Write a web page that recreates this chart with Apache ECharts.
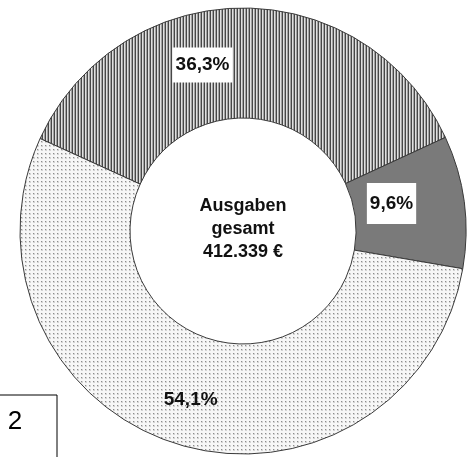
<!DOCTYPE html>
<html>
<head>
<meta charset="utf-8">
<script src="https://cdn.jsdelivr.net/npm/echarts@6/dist/echarts.min.js"></script>
<style>
  html, body { margin: 0; padding: 0; background: #fff; }
  #chart { width: 467px; height: 457px; }
</style>
</head>
<body>
<div id="chart"></div>
<script>
// values
const categories = ['Anteil A', 'Anteil B', 'Anteil C'];
const shares = [36.3, 9.6, 54.1];
const labelTexts = ['36,3%', '9,6%', '54,1%'];
const centerLines = ['Ausgaben', 'gesamt', '412.339 €'];
const pageNumber = '2';

const FONT = 'Arial, "Liberation Sans", sans-serif';
const cx = 243, cy = 231;

// small fill patterns like the old print version
function stripePattern() {
  const c = document.createElement('canvas');
  c.width = 3; c.height = 3;
  const g = c.getContext('2d');
  const cols = ['#474747', '#e0e0e0', '#a2a2a2'];
  cols.forEach((col, i) => { g.fillStyle = col; g.fillRect(i, 0, 1, 3); });
  return c;
}
function dotPattern() {
  const c = document.createElement('canvas');
  c.width = 4; c.height = 4;
  const g = c.getContext('2d');
  g.fillStyle = '#f7f7f7';
  g.fillRect(0, 0, 4, 4);
  g.fillStyle = '#d4d4d4';
  g.fillRect(1, 1, 2, 2);
  g.fillStyle = '#8c8c8c';
  g.fillRect(1, 1, 1, 1);
  return c;
}

const fills = [
  { image: stripePattern(), repeat: 'repeat' },
  '#7a7a7a',
  { image: dotPattern(), repeat: 'repeat' }
];
const boxed = [true, true, false];
const boxPad = [[8, 3], [11, 3], [0, 0]];
// nudges from the default inside position
const nudges = [[-40, 5], [-21, -5], [-2, 5]];

const chart = echarts.init(document.getElementById('chart'));
chart.setOption({
  animation: false,
  backgroundColor: '#fff',
  series: [{
    type: 'pie',
    center: [cx, cy],
    radius: [113, 223],
    startAngle: 155.5,
    clockwise: true,
    silent: true,
    itemStyle: { borderColor: '#3a3a3a', borderWidth: 1 },
    label: {
      show: true,
      position: 'inside',
      color: '#111',
      fontFamily: FONT,
      fontWeight: 'bold',
      fontSize: 19
    },
    labelLine: { show: false },
    labelLayout: function (p) {
      return { dx: nudges[p.dataIndex][0], dy: nudges[p.dataIndex][1] };
    },
    data: categories.map((name, i) => ({
      name: name,
      value: shares[i],
      itemStyle: { color: fills[i] },
      label: {
        formatter: labelTexts[i],
        backgroundColor: boxed[i] ? '#fff' : 'transparent',
        padding: boxPad[i]
      }
    }))
  }],
  graphic: [
    {
      type: 'text',
      x: cx,
      y: cy - 2,
      style: {
        text: centerLines.join('\n'),
        font: 'bold 18px ' + FONT,
        lineHeight: 23,
        fill: '#111',
        align: 'center',
        verticalAlign: 'middle'
      }
    },
    {
      type: 'rect',
      shape: { x: -2, y: 395, width: 59, height: 80 },
      style: { fill: '#fff', stroke: '#000', lineWidth: 1 }
    },
    {
      type: 'text',
      x: 15,
      y: 422,
      style: {
        text: pageNumber,
        font: '26px ' + FONT,
        fill: '#000',
        align: 'center',
        verticalAlign: 'middle'
      }
    }
  ]
});
</script>
</body>
</html>
